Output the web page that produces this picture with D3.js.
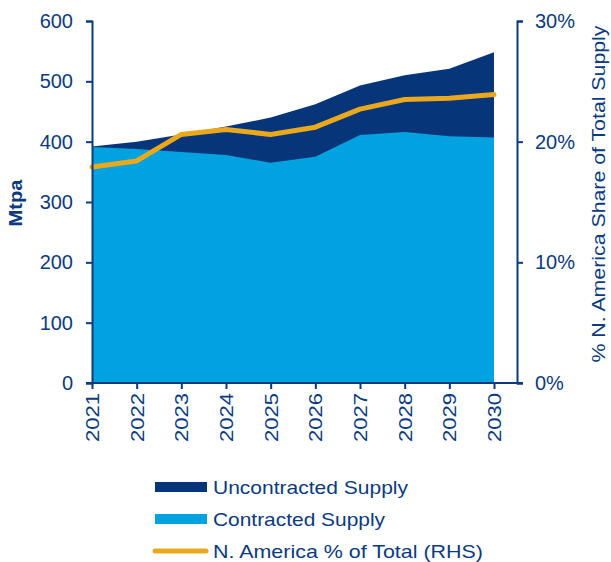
<!DOCTYPE html>
<html><head><meta charset="utf-8">
<script src="https://cdn.jsdelivr.net/npm/d3@7"></script>
<style>body{margin:0;background:#fff;} text{font-family:"Liberation Sans",Arial,sans-serif;}</style>
</head><body>
<svg id="c" width="611" height="562"></svg>
<script>
const years = [2021,2022,2023,2024,2025,2026,2027,2028,2029,2030];
const contracted = [391,388,383,378,365,375,411,416,409,407];
const total = [392,400,412,425,440,462,493,510,521,548];
const naShare = [17.9,18.4,20.6,21.0,20.6,21.2,22.7,23.5,23.6,23.9];
const leftTicks = [0,100,200,300,400,500,600];
const rightTicks = [0,10,20,30];

const navy = "#06357A", blue = "#00A3E0", orange = "#EAA81C", txt = "#0B3A7E";
const svg = d3.select("#c");
const x = d3.scaleLinear().domain([2021,2030]).range([92,494]);
const xRight = 517;
const y = d3.scaleLinear().domain([0,600]).range([383,21]);
const yR = d3.scaleLinear().domain([0,30]).range([383,21]);

const data = years.map((yr,i)=>({yr, c:contracted[i], t:total[i], p:naShare[i]}));

svg.append("path").datum(data)
  .attr("fill", navy)
  .attr("d", d3.area().x(d=>x(d.yr)).y0(y(0)).y1(d=>y(d.t)));
svg.append("path").datum(data)
  .attr("fill", blue)
  .attr("d", d3.area().x(d=>x(d.yr)).y0(y(0)).y1(d=>y(d.c)));
svg.append("path").datum(data)
  .attr("fill","none").attr("stroke",orange).attr("stroke-width",5)
  .attr("stroke-linejoin","round").attr("stroke-linecap","round")
  .attr("d", d3.line().x(d=>x(d.yr)).y(d=>yR(d.p)));

// Left axis
const gl = svg.append("g").attr("transform","translate(92,0)")
  .call(d3.axisLeft(y).tickValues(leftTicks).tickSize(6).tickPadding(13));
// Right axis
const gr = svg.append("g").attr("transform",`translate(${xRight},0)`)
  .call(d3.axisRight(yR).tickValues(rightTicks).tickSize(6).tickPadding(12).tickFormat(d=>d+"%"));
// Bottom axis
const gb = svg.append("g").attr("transform","translate(0,383)")
  .call(d3.axisBottom(x).tickValues(years).tickSize(6).tickFormat(d3.format("d")));
gb.select(".domain").remove();
svg.append("line").attr("x1",86).attr("x2",523).attr("y1",383).attr("y2",383)
  .attr("stroke",txt).attr("stroke-width",2);

[gl,gr,gb].forEach(g=>{
  g.selectAll(".domain").attr("stroke",txt).attr("stroke-width",2);
  g.selectAll(".tick line").attr("stroke",txt).attr("stroke-width",2);
  g.selectAll("text").attr("fill",txt).attr("font-size",20).attr("font-family","Liberation Sans, Arial, sans-serif");
});
gb.selectAll("text").attr("transform","rotate(-90)").attr("text-anchor","end")
  .attr("x",-10).attr("y",0).attr("dy","0.35em").attr("font-size",19)
  .attr("textLength",49).attr("lengthAdjust","spacingAndGlyphs");

svg.append("text").attr("transform","translate(22,203) rotate(-90)")
  .attr("text-anchor","middle").attr("fill",txt).attr("font-size",18).attr("font-weight","bold")
  .attr("textLength",47).attr("lengthAdjust","spacingAndGlyphs").text("Mtpa");
svg.append("text").attr("transform","translate(605,194) rotate(-90)")
  .attr("text-anchor","middle").attr("fill",txt).attr("font-size",19)
  .attr("textLength",337).attr("lengthAdjust","spacingAndGlyphs")
  .text("% N. America Share of Total Supply");

// Legend
const legend = [
  {label:"Uncontracted Supply", type:"rect", color:navy, len:195},
  {label:"Contracted Supply", type:"rect", color:blue, len:172},
  {label:"N. America % of Total (RHS)", type:"line", color:orange, len:270}
];
legend.forEach((l,i)=>{
  const cy = 487 + i*32;
  if(l.type==="rect") svg.append("rect").attr("x",155).attr("y",cy-5).attr("width",52).attr("height",10).attr("fill",l.color);
  else svg.append("line").attr("x1",155).attr("x2",206).attr("y1",cy).attr("y2",cy)
    .attr("stroke",l.color).attr("stroke-width",5).attr("stroke-linecap","round");
  svg.append("text").attr("x",213).attr("y",cy).attr("dy","0.35em")
    .attr("fill",txt).attr("font-size",19)
    .attr("textLength",l.len).attr("lengthAdjust","spacingAndGlyphs").text(l.label);
});
</script>
</body></html>
